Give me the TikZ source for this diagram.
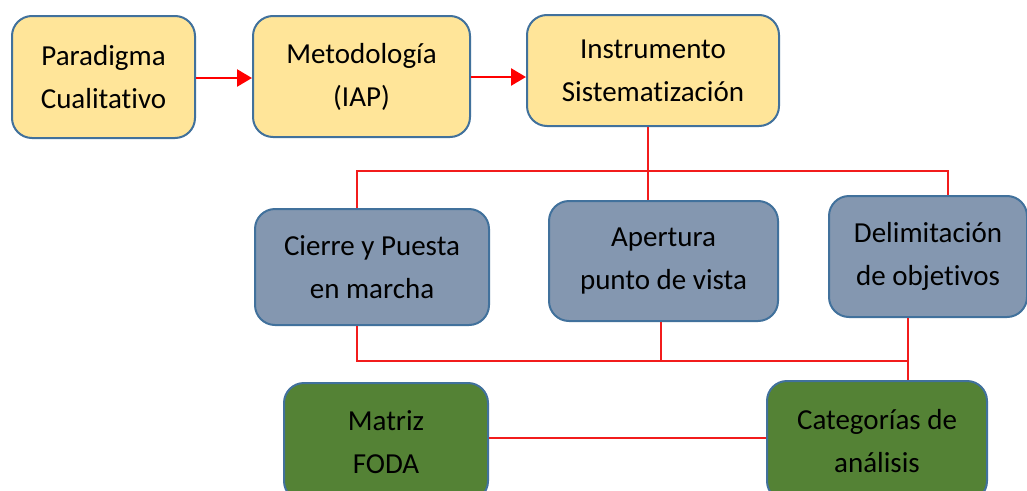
\documentclass[tikz,border=0pt]{standalone}
\usepackage{fontspec}
\setmainfont{Carlito}[Ligatures=NoCommon]
\usetikzlibrary{arrows.meta,calc}
\definecolor{boxyellow}{HTML}{FFE599}
\definecolor{boxslate}{HTML}{8497B0}
\definecolor{boxgreen}{HTML}{548235}
\definecolor{edgeblue}{HTML}{41719C}
\definecolor{connred}{HTML}{F21C1C}
\begin{document}
\begin{tikzpicture}[x=1pt,y=-1pt,
  box/.style={draw=edgeblue,line width=2pt,rounded corners=20pt,align=center,
    font=\fontsize{29}{43}\selectfont,inner sep=0pt,text=black},
  ybox/.style={box,fill=boxyellow},
  sbox/.style={box,fill=boxslate},
  gbox/.style={box,fill=boxgreen},
  arr/.style={draw=red,line width=2.5pt,-{Triangle[length=15pt,width=17pt]}},
  conn/.style={draw=connred,line width=1.3pt}]
\useasboundingbox (0,0) rectangle (1027,490);
\clip (0,0) rectangle (1027,490);
\fill[white] (0,0) rectangle (1027,490);

\node[ybox,minimum width=183pt,minimum height=122pt] (par) at (103.5,77) {Paradigma\\Cualitativo};
\node[ybox,minimum width=217pt,minimum height=121pt] (met) at (361.5,76.5) {Metodología\\(IAP)};
\node[ybox,minimum width=252pt,minimum height=111pt] (ins) at (653,70.5) {Instrumento\\Sistematización};

\node[sbox,minimum width=234pt,minimum height=116pt] (cie) at (372,267) {Cierre y Puesta\\en marcha};
\node[sbox,minimum width=229pt,minimum height=120pt] (ape) at (663.5,261) {Apertura\\punto de vista};
\node[sbox,minimum width=198pt,minimum height=121pt] (del) at (928,256.5) {Delimitación\\de objetivos};

\node[gbox,minimum width=204pt,minimum height=118pt] (mat) at (386,442) {Matriz\\FODA};
\node[gbox,minimum width=220pt,minimum height=120pt] (cat) at (877,441) {Categorías de\\análisis};

\draw[arr] (par.east |- 0,78) -- (met.west |- 0,78);
\draw[arr] (met.east |- 0,77) -- (ins.west |- 0,77);

\coordinate (top) at ($(ins.south)+(-5,0)$);
\coordinate (hb) at ($(top)+(0,44)$);
\draw[conn] (top) -- (top |- ape.north);
\draw[conn] ([xshift=-15pt]cie.north) |- (hb) -| ([xshift=20pt]del.north);

\coordinate (lb) at (0,361);
\draw[conn] ([xshift=-15pt]cie.south) -- ([xshift=-15pt]cie.south |- lb) -| ([xshift=-20pt]del.south);
\draw[conn] ([xshift=-2.5pt]ape.south) -- ([xshift=-2.5pt]ape.south |- lb);
\draw[conn] ([xshift=-20pt]del.south |- lb) -- ([xshift=-20pt]del.south |- cat.north);
\draw[conn] (mat.east |- 0,438) -- (cat.west |- 0,438);
\end{tikzpicture}
\end{document}
